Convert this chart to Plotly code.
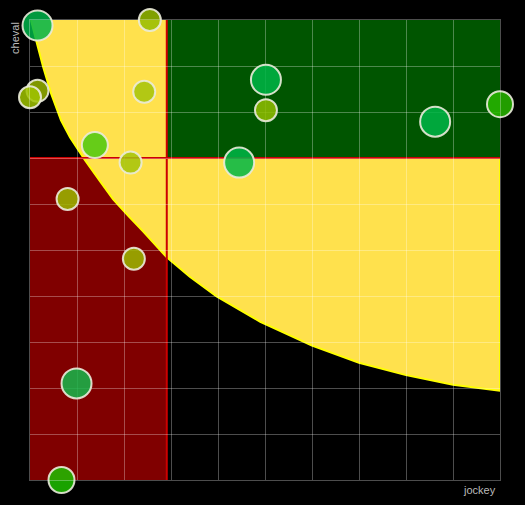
import plotly.graph_objects as go

# Bubble data (jockey score on x, horse score on y)
jockey = [0.16, 2.55, 0.16, 0.0, 2.43, 1.38, 2.14, 5.02, 5.02, 4.45, 8.62, 10.0, 0.80, 2.21, 0.99, 0.67]
cheval = [9.88, 10.0, 8.46, 8.32, 8.44, 7.28, 6.90, 8.70, 8.04, 6.90, 7.79, 8.17, 6.11, 4.81, 2.10, 0.0]
weight = [3, 1, 1, 1, 1, 2, 1, 3, 1, 3, 3, 2, 1, 1, 3, 2]
colors = ["rgba(0,180,74,0.85)", "rgba(150,188,0,0.85)", "rgba(150,178,0,0.85)", "rgba(160,195,0,0.85)",
          "rgba(165,195,10,0.85)", "rgba(75,200,15,0.85)", "rgba(165,195,10,0.85)", "rgba(0,182,70,0.85)",
          "rgba(145,190,0,0.85)", "rgba(0,182,70,0.85)", "rgba(0,182,70,0.85)", "rgba(40,185,0,0.85)",
          "rgba(155,185,0,0.85)", "rgba(155,185,0,0.85)", "rgba(20,185,75,0.85)", "rgba(30,190,0,0.85)"]

# Thresholds
x_thr = 2.91
y_thr = 7.0

# Frontier curve
curve_x = [0.02, 0.13, 0.28, 0.45, 0.66, 0.85, 1.17, 1.5, 1.77, 2.1, 2.4, 2.91, 3.4, 3.97, 4.9, 6.0, 7.0, 8.0, 9.0, 10.0]
curve_y = [10.0, 9.56, 8.98, 8.4, 7.82, 7.45, 6.95, 6.48, 6.1, 5.73, 5.41, 4.84, 4.42, 3.99, 3.44, 2.92, 2.55, 2.28, 2.07, 1.94]

size_map = {1: 22, 2: 26, 3: 30}
sizes = [size_map[w] for w in weight]

curve_path = "M 0,10 L " + " L ".join(f"{x},{y}" for x, y in zip(curve_x, curve_y))
fill_path = curve_path + " L 10,10 Z"
edge_path = "M " + " L ".join(f"{x},{y}" for x, y in zip(curve_x, curve_y)) + f" L 10,{y_thr}"

fig = go.Figure()
fig.add_trace(go.Scatter(
    x=jockey, y=cheval, mode="markers", cliponaxis=False,
    marker=dict(size=sizes, color=colors, opacity=1,
                line=dict(color="rgba(235,235,220,0.9)", width=2)),
    hoverinfo="x+y",
))

shapes = [
    dict(type="rect", xref="x", yref="y", x0=0, x1=x_thr, y0=0, y1=y_thr,
         fillcolor="#800000", line=dict(width=0), layer="below"),
    dict(type="path", xref="x", yref="y", path=fill_path,
         fillcolor="#FFE14D", line=dict(width=0), layer="below"),
    dict(type="rect", xref="x", yref="y", x0=x_thr, x1=10, y0=y_thr, y1=10,
         fillcolor="#005500", line=dict(width=0), layer="below"),
    dict(type="path", xref="x", yref="y", path=edge_path,
         line=dict(color="#FFFF00", width=2), layer="below"),
    dict(type="line", xref="x", yref="y", x0=x_thr, x1=x_thr, y0=0, y1=10,
         line=dict(color="#CC0000", width=2), layer="below"),
    dict(type="line", xref="x", yref="y", x0=0, x1=10, y0=y_thr, y1=y_thr,
         line=dict(color="#CC0000", width=2), layer="below"),
]

grid = "rgba(255,255,255,0.3)"
axis_common = dict(range=[0, 10], dtick=1, tick0=0, showgrid=True, gridcolor=grid, gridwidth=1,
                   zeroline=False, showticklabels=False, ticks="",
                   showline=True, mirror=True, linecolor="rgba(255,255,255,0.3)", linewidth=1,
                   fixedrange=True)

fig.update_layout(
    width=525, height=505,
    margin=dict(l=30, r=25, t=20, b=25),
    paper_bgcolor="black", plot_bgcolor="black",
    showlegend=False,
    xaxis=axis_common,
    yaxis=axis_common,
    shapes=shapes,
    font=dict(family="Liberation Sans, Arial, sans-serif", color="#bbbbbb", size=11),
    annotations=[
        dict(text="cheval", xref="paper", yref="paper", x=-0.032, y=0.961, showarrow=False,
             textangle=-90, xanchor="center", yanchor="middle", font=dict(size=11, color="#bbbbbb")),
        dict(text="jockey", xref="paper", yref="paper", x=0.957, y=-0.022, showarrow=False,
             xanchor="center", yanchor="middle", font=dict(size=11, color="#bbbbbb")),
    ],
)

fig.write_html("out.html", config={"displayModeBar": False},
               post_script="document.body.style.margin='0';document.body.style.background='black';")
